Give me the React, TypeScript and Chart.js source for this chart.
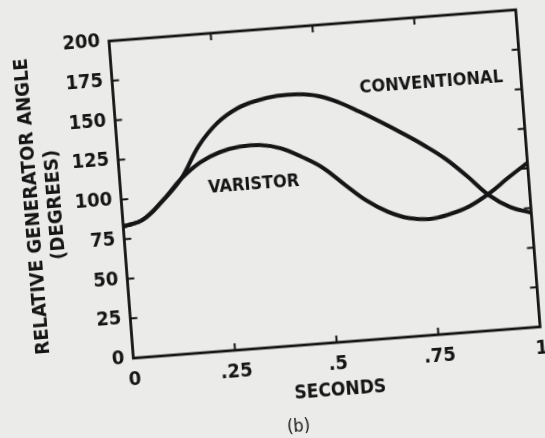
import { useEffect, useRef } from "react";
import { Chart, registerables } from "chart.js";

Chart.register(...registerables);

// ---- data ----
const seconds = [0, 0.05, 0.1, 0.15, 0.2, 0.25, 0.3, 0.35, 0.4, 0.45, 0.5, 0.55, 0.6, 0.65, 0.7, 0.75, 0.8, 0.85, 0.9, 0.95, 1.0];
const conventional = [83, 86.5, 97, 110, 130, 143.5, 151.5, 155.5, 157.5, 157.5, 155.5, 150.5, 143.5, 136, 128, 119.5, 110, 98, 85, 76.5, 72];
const varistor = [83, 86.5, 97, 110, 119.5, 125, 127.5, 127.5, 124.5, 118, 110, 98.5, 87.5, 79.5, 74.5, 73, 75, 79, 86, 95, 103.5];

const xTickLabels = ["0", ".25", ".5", ".75", "1"];
const yTitleLines = ["RELATIVE GENERATOR ANGLE", "(DEGREES)"];
const xTitle = "SECONDS";
const panelLabel = "(b)";
const curveLabels = ["CONVENTIONAL", "VARISTOR"];
const curveLabelAt = [
  { x: 0.78, y: 158 },
  { x: 0.327, y: 103 },
];

const INK = "#151515";
const BG = "#ebebea";
const FONT = "'DejaVu Sans Condensed', 'Liberation Sans Narrow', 'Roboto Condensed', 'DejaVu Sans', sans-serif";

const framePlugin = {
  id: "frameTicks",
  afterDatasetsDraw(chart: any) {
    const { ctx, chartArea, scales } = chart;
    const { left, right, top, bottom } = chartArea;
    const xs = scales.x;
    const ys = scales.y;
    ctx.save();
    ctx.strokeStyle = INK;
    ctx.lineWidth = 2.8;
    ctx.strokeRect(left, top, right - left, bottom - top);
    ctx.lineWidth = 2;
    const tl = 7;
    const seg = (x1: number, y1: number, x2: number, y2: number) => {
      ctx.beginPath();
      ctx.moveTo(x1, y1);
      ctx.lineTo(x2, y2);
      ctx.stroke();
    };
    ys.ticks.forEach((t: any) => {
      if (t.value <= ys.min || t.value >= ys.max) return;
      const py = ys.getPixelForValue(t.value);
      seg(left, py, left + tl, py);
      seg(right, py, right - tl, py);
    });
    xs.ticks.forEach((t: any) => {
      if (t.value <= xs.min || t.value >= xs.max) return;
      const px = xs.getPixelForValue(t.value);
      seg(px, bottom, px, bottom - tl);
      seg(px, top, px, top + tl);
    });
    ctx.fillStyle = INK;
    ctx.textAlign = "center";
    ctx.textBaseline = "middle";
    ctx.font = `bold 18px ${FONT}`;
    curveLabels.forEach((txt, i) => {
      const p = curveLabelAt[i];
      ctx.fillText(txt, xs.getPixelForValue(p.x), ys.getPixelForValue(p.y));
    });
    ctx.font = `18px ${FONT}`;
    ctx.fillText(panelLabel, 280, 424);
    ctx.restore();
  },
};

export default function App() {
  const ref = useRef<HTMLCanvasElement | null>(null);

  useEffect(() => {
    if (!ref.current) return;
    const tickFont = { family: FONT, size: 20, weight: "bold" as const };
    const chart = new Chart(ref.current, {
      type: "line",
      data: {
        datasets: [
          {
            label: "CONVENTIONAL",
            data: seconds.map((s, i) => ({ x: s, y: conventional[i] })),
            borderColor: INK,
            borderWidth: 4,
            pointRadius: 0,
            tension: 0.4,
            fill: false,
          },
          {
            label: "VARISTOR",
            data: seconds.map((s, i) => ({ x: s, y: varistor[i] })),
            borderColor: INK,
            borderWidth: 4,
            pointRadius: 0,
            tension: 0.4,
            fill: false,
          },
        ],
      },
      options: {
        animation: false,
        responsive: false,
        devicePixelRatio: 1,
        layout: { padding: { left: 0, right: 16.6, top: 25, bottom: 0 } },
        plugins: {
          legend: { display: false },
          tooltip: { enabled: false },
        },
        scales: {
          x: {
            type: "linear",
            min: 0,
            max: 1,
            grid: { display: false, drawTicks: false },
            border: { display: false },
            ticks: {
              stepSize: 0.25,
              padding: 10,
              maxRotation: 0,
              autoSkip: false,
              font: tickFont,
              color: INK,
              callback: (_v: any, i: number) => xTickLabels[i],
            },
            title: {
              display: true,
              text: xTitle,
              font: { family: FONT, size: 19, weight: "bold" },
              color: INK,
              padding: { top: 0, bottom: 36 },
            },
            afterFit: (s: any) => {
              s.height = 95;
            },
          },
          y: {
            type: "linear",
            min: 0,
            max: 200,
            grid: { display: false, drawTicks: false },
            border: { display: false },
            ticks: {
              stepSize: 25,
              padding: 9,
              font: tickFont,
              color: INK,
            },
            title: {
              display: true,
              text: yTitleLines,
              font: { family: FONT, size: 20, weight: "bold", lineHeight: 1.15 },
              color: INK,
              padding: { top: 20.5, bottom: 0 },
            },
            afterFit: (s: any) => {
              s.width = 120.5;
            },
          },
        },
      },
      plugins: [framePlugin],
    } as any);
    return () => chart.destroy();
  }, []);

  return (
    <div
      style={{
        position: "fixed",
        left: 0,
        top: 0,
        width: 545,
        height: 438,
        background: BG,
        overflow: "hidden",
      }}
    >
      <canvas
        ref={ref}
        width={545}
        height={438}
        style={{
          display: "block",
          width: 545,
          height: 438,
          transformOrigin: "324px 183px",
          transform: "rotate(-4.4deg)",
        }}
      />
    </div>
  );
}
